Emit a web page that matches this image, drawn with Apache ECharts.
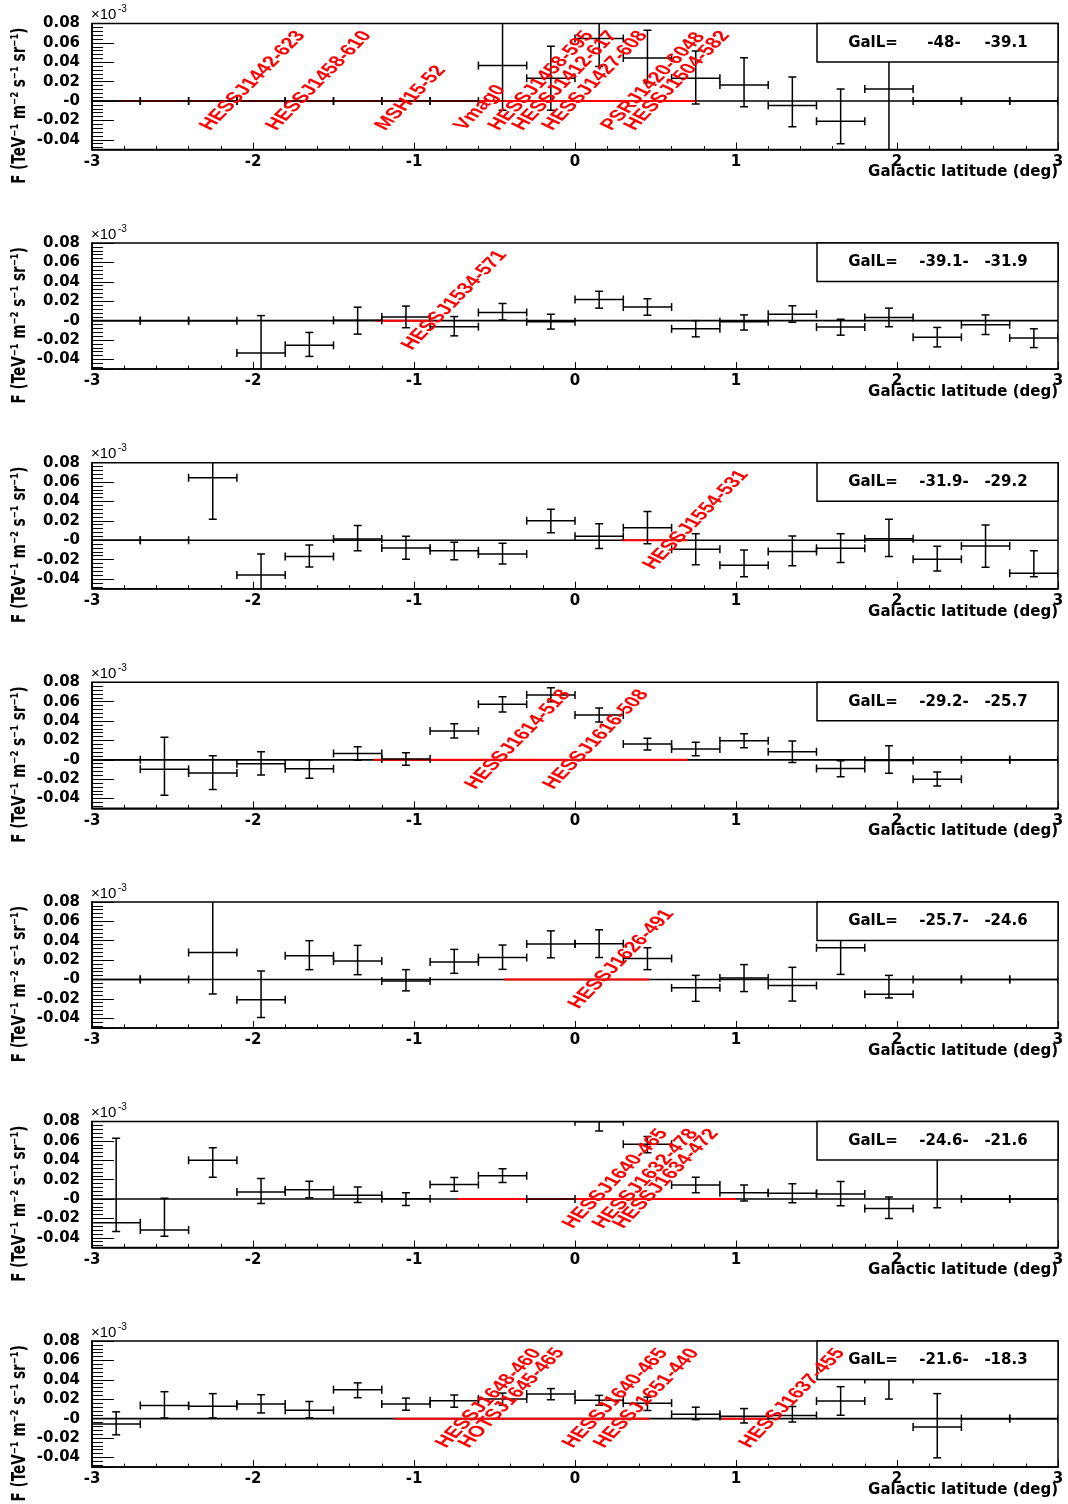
<!DOCTYPE html>
<html><head><meta charset="utf-8">
<script src="https://cdn.jsdelivr.net/npm/echarts@6/dist/echarts.min.js"></script>
<style>html,body{margin:0;padding:0;background:#fff}#c{width:1068px;height:1504px}</style>
</head><body><div id="c"></div>
<script>
// ---------- data ----------
const binCenters = [-2.85,-2.55,-2.25,-1.95,-1.65,-1.35,-1.05,-0.75,-0.45,-0.15,0.15,0.45,0.75,1.05,1.35,1.65,1.95,2.25,2.55,2.85];
const binHalfWidth = 0.15;
const galLRanges = [["-48-","-39.1"],["-39.1-","-31.9"],["-31.9-","-29.2"],["-29.2-","-25.7"],["-25.7-","-24.6"],["-24.6-","-21.6"],["-21.6-","-18.3"]];

const p1Val = [0,0,0,0,0,0,0,0,0.0367,0.0236,0.0644,0.0445,0.0236,0.0166,-0.0045,-0.0208,0.0125,0,0,0];
const p1Lo  = [0,0,0,0,0,0,0,0,-0.0095,-0.0094,0.0357,0.0188,-0.0030,-0.0060,-0.0264,-0.0440,-0.0600,0,0,0];
const p1Hi  = [0,0,0,0,0,0,0,0,0.0900,0.0564,0.0900,0.0730,0.0515,0.0446,0.0247,0.0125,0.0850,0,0,0];

const p2Val = [0,0,0,-0.0334,-0.0255,0.0003,0.0038,-0.0062,0.0084,-0.0012,0.0218,0.0140,-0.0084,-0.0012,0.0067,-0.0066,0.0032,-0.0172,-0.0042,-0.0180];
const p2Lo  = [0,0,0,-0.0700,-0.0369,-0.0139,-0.0073,-0.0157,0.0007,-0.0087,0.0129,0.0056,-0.0167,-0.0097,-0.0017,-0.0150,-0.0063,-0.0271,-0.0143,-0.0278];
const p2Hi  = [0,0,0,0.0052,-0.0122,0.0139,0.0150,0.0042,0.0177,0.0066,0.0303,0.0226,0.0000,0.0059,0.0153,0.0014,0.0129,-0.0070,0.0059,-0.0084];

const p3Val = [0,0,0.0645,-0.0358,-0.0167,0.0014,-0.0080,-0.0108,-0.0142,0.0200,0.0040,0.0128,-0.0092,-0.0258,-0.0115,-0.0082,0.0016,-0.0195,-0.0060,-0.0341];
const p3Lo  = [0,0,0.0216,-0.0600,-0.0275,-0.0108,-0.0195,-0.0202,-0.0244,0.0077,-0.0084,-0.0035,-0.0254,-0.0376,-0.0264,-0.0230,-0.0167,-0.0317,-0.0278,-0.0376];
const p3Hi  = [0,0,0.0900,-0.0143,-0.0049,0.0153,0.0042,-0.0021,-0.0031,0.0320,0.0170,0.0296,0.0066,-0.0101,0.0045,0.0066,0.0216,-0.0063,0.0157,-0.0108];

const p4Val = [0,-0.0097,-0.0135,-0.0040,-0.0093,0.0066,0.0008,0.0297,0.0573,0.0670,0.0463,0.0163,0.0112,0.0197,0.0083,-0.0090,-0.0008,-0.0199,0,0];
const p4Lo  = [0,-0.0365,-0.0306,-0.0157,-0.0191,-0.0003,-0.0056,0.0226,0.0494,0.0599,0.0390,0.0101,0.0042,0.0125,-0.0028,-0.0174,-0.0139,-0.0271,0,0];
const p4Hi  = [0,0.0233,0.0042,0.0084,0.0000,0.0136,0.0073,0.0372,0.0651,0.0745,0.0536,0.0223,0.0181,0.0268,0.0195,-0.0010,0.0146,-0.0125,0,0];

const p5Val = [0,0,0.0278,-0.0209,0.0244,0.0191,-0.0017,0.0181,0.0226,0.0365,0.0369,0.0216,-0.0087,0.0014,-0.0063,0.0327,-0.0153,0,0,0];
const p5Lo  = [0,0,-0.0150,-0.0393,0.0101,0.0049,-0.0118,0.0063,0.0104,0.0223,0.0226,0.0101,-0.0226,-0.0125,-0.0223,0.0052,-0.0191,0,0,0];
const p5Hi  = [0,0,0.0900,0.0087,0.0400,0.0351,0.0101,0.0310,0.0355,0.0501,0.0512,0.0327,0.0042,0.0153,0.0125,0.0600,0.0042,0,0,0];

const p6Val = [-0.0244,-0.0320,0.0400,0.0073,0.0097,0.0038,0.0002,0.0150,0.0240,0,0.0797,0.0564,0.0146,0.0066,0.0059,0.0052,-0.0097,0.0600,0,0];
const p6Lo  = [-0.0334,-0.0383,0.0226,-0.0045,0.0014,-0.0035,-0.0066,0.0080,0.0171,0,0.0703,0.0477,0.0066,-0.0021,-0.0038,-0.0070,-0.0202,-0.0090,0,0];
const p6Hi  = [0.0626,0.0007,0.0529,0.0212,0.0184,0.0125,0.0066,0.0223,0.0313,0,0.0890,0.0645,0.0226,0.0146,0.0157,0.0181,0.0021,0.1300,0,0];

const p7Val = [-0.0056,0.0136,0.0129,0.0150,0.0087,0.0299,0.0150,0.0184,0.0202,0.0254,0.0191,0.0160,0.0045,0.0024,0.0033,0.0181,0.0405,-0.0087,0,0];
const p7Lo  = [-0.0167,0.0007,0.0007,0.0059,0.0007,0.0216,0.0087,0.0118,0.0140,0.0195,0.0139,0.0084,-0.0010,-0.0045,-0.0035,0.0035,0.0202,-0.0404,0,0];
const p7Hi  = [0.0070,0.0278,0.0258,0.0247,0.0177,0.0369,0.0212,0.0244,0.0264,0.0310,0.0240,0.0223,0.0118,0.0104,0.0125,0.0330,0.0610,0.0258,0,0];

// source labels (text anchor latitude) and source extents (red segments)
const p1Src = ["HESSJ1442-623","HESSJ1458-610","MSH15-52","Vmag0","HESSJ1458-595","HESSJ1412-617","HESSJ1427-608","PSRJ1420-6048","HESSJ1504-582"];
const p1SrcX = [-2.239,-1.828,-1.151,-0.661,-0.448,-0.299,-0.113,0.252,0.397];
const p2Src = ["HESSJ1534-571"];
const p2SrcX = [-0.987];
const p3Src = ["HESSJ1554-531"];
const p3SrcX = [0.513];
const p4Src = ["HESSJ1614-518","HESSJ1616-508"];
const p4SrcX = [-0.592,-0.107];
const p5Src = ["HESSJ1626-491"];
const p5SrcX = [0.050];
const p6Src = ["HESSJ1640-465","HESSJ1632-478","HESSJ1634-472"];
const p6SrcX = [0.013,0.200,0.327];
const p7Src = ["HESSJ1648-460","HOTSJ1645-465","HESSJ1640-465","HESSJ1651-440","HESSJ1637-455"];
const p7SrcX = [-0.773,-0.633,0.013,0.207,1.112];
const labelY = -0.033;

const p1Red = [[-2.82,0.76]];
const p2Red = [[-1.24,-0.88]];
const p3Red = [[0.29,0.70]];
const p4Red = [[-1.25,0.70]];
const p5Red = [[-0.44,0.46]];
const p6Red = [[-0.73,1.00]];
const p7Red = [[-1.12,0.46],[0.91,1.20]];

const xMin = -3, xMax = 3, yMin = -0.05, yMax = 0.08;
const yTitle = "F (TeV\u207B\u00B9 m\u207B\u00B2 s\u207B\u00B9 sr\u207B\u00B9)";

const panels = [
  {val:p1Val, lo:p1Lo, hi:p1Hi, src:p1Src, srcX:p1SrcX, red:p1Red},
  {val:p2Val, lo:p2Lo, hi:p2Hi, src:p2Src, srcX:p2SrcX, red:p2Red},
  {val:p3Val, lo:p3Lo, hi:p3Hi, src:p3Src, srcX:p3SrcX, red:p3Red},
  {val:p4Val, lo:p4Lo, hi:p4Hi, src:p4Src, srcX:p4SrcX, red:p4Red},
  {val:p5Val, lo:p5Lo, hi:p5Hi, src:p5Src, srcX:p5SrcX, red:p5Red},
  {val:p6Val, lo:p6Lo, hi:p6Hi, src:p6Src, srcX:p6SrcX, red:p6Red},
  {val:p7Val, lo:p7Lo, hi:p7Hi, src:p7Src, srcX:p7SrcX, red:p7Red}
];

// ---------- layout ----------
const GL = 92, GW = 966, GH = 126;
const gTop = i => 23.5 + 219.6 * i;
const FONT = '"DejaVu Sans", sans-serif';
const LFONT = '"Liberation Sans", Arial, sans-serif';
const STRETCH = 1.45;
const ERR = '#000';

function errRender(params, api) {
  const x = api.value(0), v = api.value(1), lo = api.value(2), hi = api.value(3);
  const c = 4;
  const L = api.coord([x - binHalfWidth, v]), R = api.coord([x + binHalfWidth, v]);
  const st = () => ({stroke: ERR, lineWidth: 1.5, fill: null});
  const ch = [];
  if (v >= yMin && v <= yMax) {
    ch.push({type:'line', shape:{x1:L[0], y1:L[1], x2:R[0], y2:R[1]}, style:st()});
    ch.push({type:'line', shape:{x1:L[0], y1:L[1]-c, x2:L[0], y2:L[1]+c}, style:st()});
    ch.push({type:'line', shape:{x1:R[0], y1:R[1]-c, x2:R[0], y2:R[1]+c}, style:st()});
  }
  if (hi > lo) {
    const loC = Math.max(lo, yMin), hiC = Math.min(hi, yMax);
    const B = api.coord([x, loC]), T = api.coord([x, hiC]);
    ch.push({type:'line', shape:{x1:B[0], y1:B[1], x2:T[0], y2:T[1]}, style:st()});
    if (lo >= yMin) ch.push({type:'line', shape:{x1:B[0]-c, y1:B[1], x2:B[0]+c, y2:B[1]}, style:st()});
    if (hi <= yMax) ch.push({type:'line', shape:{x1:T[0]-c, y1:T[1], x2:T[0]+c, y2:T[1]}, style:st()});
  }
  return {type:'group', children: ch};
}

// text rotated then stretched horizontally (as in the original canvas)
const LBL_ROT = Math.atan(STRETCH);
function lblRender(names) {
  return function (params, api) {
    const p = api.coord([api.value(0), api.value(1)]);
    return {type:'group', x:p[0], y:p[1], scaleX:STRETCH, scaleY:1,
      children:[{type:'text', x:0, y:0, rotation: LBL_ROT,
        style:{text:names[params.dataIndex], fill:'#ff0000', font:'bold 15.5px ' + LFONT,
          align:'left', verticalAlign:'bottom', textAlign:'left', textVerticalAlign:'bottom'}}]};
  };
}

const grid = [], xAxis = [], yAxis = [], series = [], graphics = [];
panels.forEach((P, i) => {
  const top = gTop(i);
  grid.push({left:GL, top:top, width:GW, height:GH, show:true, borderColor:'#000', borderWidth:1.5, backgroundColor:'#fff'});
  xAxis.push({gridIndex:i, type:'value', min:xMin, max:xMax, interval:1,
    axisLine:{show:true, onZero:false, lineStyle:{color:'#000', width:1.5}},
    axisTick:{show:true, inside:true, length:7, lineStyle:{color:'#000', width:1}},
    minorTick:{show:true, splitNumber:5, length:3.5, lineStyle:{color:'#000', width:1}},
    splitLine:{show:false}, minorSplitLine:{show:false},
    axisLabel:{color:'#000', fontFamily:FONT, fontWeight:'bold', fontSize:15, margin:5}});
  yAxis.push({gridIndex:i, type:'value', min:yMin, max:yMax, splitNumber:6,
    axisLine:{show:true, onZero:false, lineStyle:{color:'#000', width:1.5}},
    axisTick:{show:true, inside:true, length:22, lineStyle:{color:'#000', width:1}},
    minorTick:{show:true, splitNumber:5, length:11, lineStyle:{color:'#000', width:1}},
    splitLine:{show:false}, minorSplitLine:{show:false},
    axisLabel:{color:'#000', fontFamily:FONT, fontWeight:'bold', fontSize:15, margin:12,
      formatter: v => (Math.abs(v) < 1e-9 ? '-0' : (v < -0.0495 || v > 0.0805 ? '' : v.toFixed(2)))}});

  // zero line
  series.push({type:'line', xAxisIndex:i, yAxisIndex:i, data:[[xMin,0],[xMax,0]], symbol:'none', silent:true,
    lineStyle:{color:'#000', width:1.6}, z:1, animation:false});
  // source extents
  P.red.forEach(seg => {
    series.push({type:'line', xAxisIndex:i, yAxisIndex:i, data:[[seg[0],0],[seg[1],0]], symbol:'none', silent:true,
      lineStyle:{color:'#ff0000', width:2}, z:2, animation:false});
  });
  // data with error bars
  series.push({type:'custom', xAxisIndex:i, yAxisIndex:i, silent:true, z:4, clip:true, animation:false,
    renderItem: errRender, encode:{x:0, y:1},
    data: binCenters.map((x, k) => [x, P.val[k], P.lo[k], P.hi[k]])});
  // source labels (drawn last, over the box)
  series.push({type:'custom', xAxisIndex:i, yAxisIndex:i, silent:true, z:200, animation:false,
    renderItem: lblRender(P.src), encode:{x:0, y:1},
    data: P.srcX.map(x => [x, labelY])});

  // GalL box
  graphics.push({type:'rect', z:100, shape:{x:817, y:top, width:GW + GL - 817, height:38.5},
    style:{fill:'#fff', stroke:'#000', lineWidth:1.5}});
  const ty = top + 19.5;
  const tf = 'bold 15px ' + FONT;
  graphics.push({type:'text', z:101, x:873, y:ty, style:{text:'GalL=', font:tf, fill:'#000', align:'center', verticalAlign:'middle'}});
  graphics.push({type:'text', z:101, x:944, y:ty, style:{text:galLRanges[i][0], font:tf, fill:'#000', align:'center', verticalAlign:'middle'}});
  graphics.push({type:'text', z:101, x:1006, y:ty, style:{text:galLRanges[i][1], font:tf, fill:'#000', align:'center', verticalAlign:'middle'}});
  // axis titles
  graphics.push({type:'text', z:101, x:1058, y:top + GH + 23, style:{text:'Galactic latitude (deg)', font:tf, fill:'#000', align:'right', verticalAlign:'middle'}});
  graphics.push({type:'group', z:101, x:20, y:top + 4, scaleX:STRETCH, scaleY:1, children:[
    {type:'text', z:101, x:0, y:0, rotation:Math.PI/2,
      style:{text:yTitle, font:'bold 13.5px ' + FONT, fill:'#000', align:'right', verticalAlign:'middle'}}]});
  graphics.push({type:'text', z:101, x:91, y:top - 1, style:{text:'\u00D710', font:'15px ' + LFONT, fill:'#000', align:'left', verticalAlign:'bottom'}});
  graphics.push({type:'text', z:101, x:118, y:top - 9, style:{text:'-3', font:'10px ' + LFONT, fill:'#000', align:'left', verticalAlign:'bottom'}});
});

const chart = echarts.init(document.getElementById('c'), null, {renderer:'canvas'});
chart.setOption({animation:false, backgroundColor:'#fff', grid, xAxis, yAxis, series, graphic:{elements:graphics}});
</script></body></html>
